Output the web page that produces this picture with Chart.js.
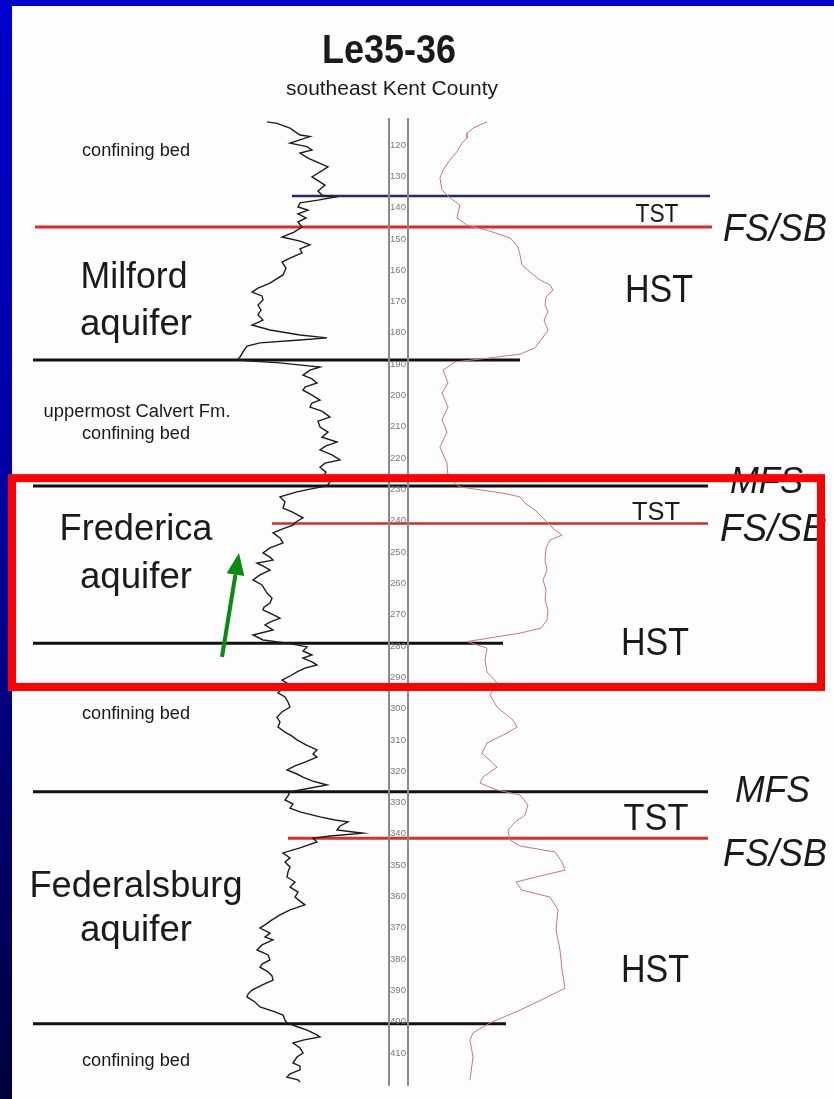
<!DOCTYPE html>
<html>
<head>
<meta charset="utf-8">
<script src="https://cdn.jsdelivr.net/npm/chart.js@4/dist/chart.umd.min.js"></script>
<style>
html,body{margin:0;padding:0;background:#fff;overflow:hidden;}
canvas{display:block;}
</style>
</head>
<body>
<canvas id="c" width="834" height="1099"></canvas>
<script>
// ---------- DATA ----------
const depthTicks = [120,130,140,150,160,170,180,190,200,210,220,230,240,250,260,270,280,290,300,310,320,330,340,350,360,370,380,390,400,410];

// Gamma-ray log (black): depth (ft) and relative reading
const gammaDepth = [112.6,113.1,114.6,116.8,117.3,119.4,120.5,121.6,122.6,124.2,127.0,130.2,132.8,134.7,136.0,136.6,137.6,138.5,139.8,140.8,142.0,143.3,144.6,146.2,147.8,149.4,150.7,151.9,153.2,154.5,156.1,157.4,159.3,161.5,163.1,164.1,165.7,167.0,168.2,169.5,171.1,172.7,174.3,175.9,177.5,179.1,180.7,181.6,182.3,183.2,184.2,186.1,187.7,188.7,189.6,190.9,191.9,193.5,194.7,196.0,197.3,198.3,199.9,201.5,202.4,203.7,205.0,206.9,208.2,210.1,211.7,213.3,214.9,216.1,217.4,219.0,220.6,221.6,222.9,224.5,226.0,227.6,228.9,229.9,230.8,232.4,234.0,236.0,237.2,239.1,240.4,241.4,242.7,243.9,245.5,247.1,248.7,250.3,251.6,252.6,253.5,254.8,255.8,257.3,258.9,260.5,262.1,263.1,264.7,266.3,267.6,268.5,269.8,271.1,272.4,273.3,274.9,276.5,278.1,279.1,280.3,281.6,282.9,283.9,285.1,286.1,287.1,288.3,289.6,290.9,292.5,294.1,295.0,296.3,297.9,299.5,301.1,302.7,304.3,305.9,307.5,308.8,310.0,311.6,313.2,314.5,315.5,317.1,318.3,319.6,320.9,321.9,323.1,324.4,325.7,326.6,327.9,329.2,330.5,331.8,333.0,334.6,335.6,336.2,337.5,338.8,339.8,340.7,341.4,342.6,344.5,346.1,347.7,349.0,350.6,352.2,353.8,355.4,357.0,358.6,360.2,361.5,362.7,364.3,365.9,367.5,369.1,370.1,371.7,373.0,373.9,375.5,377.1,378.7,380.3,381.6,382.6,384.1,385.4,386.7,388.3,389.9,391.2,392.1,393.7,395.3,396.9,397.9,399.5,400.4,401.7,402.7,403.9,404.9,405.9,406.8,408.4,410.0,411.3,413.2,414.2,415.4,416.7,417.7,418.6,419.3];
const gammaValue = [67,77,90,100,110,90,107,112,100,108,128,112,125,118,122,135,118,100,98,108,98,106,98,102,94,82,100,110,100,102,90,82,86,83,75,70,58,52,62,63,58,61,58,63,52,70,100,127,100,60,47,43,40,37,80,120,110,103,112,117,105,103,112,120,112,110,122,130,118,120,128,122,137,126,120,132,140,125,120,126,123,130,127,110,97,80,85,83,92,103,96,93,82,73,80,83,70,63,70,73,57,65,70,60,53,62,65,67,72,70,64,63,72,80,70,65,73,53,63,87,107,103,112,103,112,117,105,97,90,82,90,81,78,85,88,90,82,77,80,78,85,92,97,106,117,113,117,105,95,87,97,103,112,127,105,90,88,85,93,90,100,120,135,148,140,137,163,130,113,117,100,83,90,85,90,88,87,95,90,98,95,100,105,90,80,72,65,60,70,65,73,62,57,68,70,62,60,68,72,73,62,52,48,47,55,60,75,83,85,87,98,107,115,120,103,93,100,103,97,93,100,100,90,87,98,100];

// Resistivity log (red): depth (ft) and relative reading
const resistDepth = [112.6,114.6,116.2,117.8,119.4,122.1,124.8,128.0,130.5,134.4,136.0,137.6,139.2,141.7,143.3,145.6,147.2,149.7,152.6,155.1,158.3,160.6,163.1,164.7,166.3,168.6,171.1,173.3,175.9,179.1,182.3,184.8,186.8,188.0,189.3,191.9,196.0,199.2,203.7,207.8,211.7,216.5,221.6,226.4,229.2,231.2,232.4,234.4,236.6,239.8,243.0,244.6,246.2,248.7,252.6,255.8,258.9,262.1,265.3,268.5,271.7,274.3,275.9,278.6,280.7,284.5,288.3,291.8,295.7,299.5,303.7,305.9,307.8,311.0,314.2,318.7,321.9,323.8,326.0,327.6,330.8,334.0,336.2,338.8,342.0,343.9,345.8,349.0,351.6,353.5,355.4,358.0,360.2,364.3,370.7,377.1,383.5,389.3,392.5,396.3,400.4,403.6,405.9,411.3,418.6];
const resistValue = [67,53,47,47,42,37,30,23,20,22,27,33,40,38,37,47,67,90,98,100,102,110,120,130,133,126,125,128,124,128,121,115,100,70,35,23,28,22,28,22,27,20,27,28,40,83,100,105,115,125,135,142,130,126,125,127,123,126,125,128,127,121,100,47,67,65,67,77,70,77,93,97,87,67,62,77,63,60,77,100,108,105,95,88,90,100,135,142,145,120,96,102,130,138,136,140,142,145,125,100,70,53,50,53,50];

// Stratigraphic surfaces: depth (ft) and kind
const surfaceDepth = [136.3, 146.2, 188.7, 228.9, 240.9, 279.1, 326.6, 341.4, 400.7];
const surfaceKind  = ['top','fssb','bound','mfs','fssb2','bound','mfs','fssb3','bound'];

// Highlight box (depth range) and arrow (depth from/to)
const boxDepth = [226.4, 293.1];
const arrowDepth = [283.5, 250.3];
const trackDepth = [111.4, 420.5];

// ---------- LAYOUT / STYLE ----------
const surfaceExtent = [[292,710],[35,712],[33,520],[33,708],[272,708],[33,503],[33,708],[288,708],[33,506]];
const surfaceStyle = {
  top:   {c:'#262673', w:2.5},
  fssb:  {c:'#e2262a', w:3},
  bound: {c:'#111111', w:3},
  mfs:   {c:'#111111', w:3},
  fssb2: {c:'#c8302c', w:2.5},
  fssb3: {c:'#d8302f', w:3}
};
const FONT = '"Liberation Sans", Arial, Helvetica, sans-serif';

const toPts = (ys, xs) => ys.map((d,i)=>({x:xs[i], y:d}));

const datasets = [];
datasets.push({data: toPts(gammaDepth, gammaValue), xAxisID:'gx', borderColor:'#1c1c1c', borderWidth:1.4});
datasets.push({data: toPts(resistDepth, resistValue), xAxisID:'rx', borderColor:'#d27474', borderWidth:1});
[389, 408].forEach(x => datasets.push({data:[{x:x,y:trackDepth[0]},{x:x,y:trackDepth[1]}], xAxisID:'fx', borderColor:'#8a8a8a', borderWidth:2}));
surfaceDepth.forEach((d,i)=>{
  const st = surfaceStyle[surfaceKind[i]];
  datasets.push({data:[{x:surfaceExtent[i][0],y:d},{x:surfaceExtent[i][1],y:d}], xAxisID:'fx', borderColor:st.c, borderWidth:st.w});
});
datasets.forEach(ds=>{ds.showLine=true; ds.pointRadius=0; ds.tension=0; ds.fill=false; ds.clip=false;});

const labels = [
  {t:'Le35-36', x:389, y:63, f:'bold 41px', w:134, a:'center'},
  {t:'southeast Kent County', x:392, y:95, f:'20px', w:212, a:'center'},
  {t:'confining bed', x:136, y:156, f:'18px', w:108, a:'center'},
  {t:'Milford', x:134, y:288, f:'37px', w:107, a:'center'},
  {t:'aquifer', x:136, y:335, f:'37px', w:112, a:'center'},
  {t:'uppermost Calvert Fm.', x:137, y:417, f:'18px', w:187, a:'center'},
  {t:'confining bed', x:136, y:439, f:'18px', w:108, a:'center'},
  {t:'Frederica', x:136, y:540, f:'37px', w:153, a:'center'},
  {t:'aquifer', x:136, y:588, f:'37px', w:112, a:'center'},
  {t:'confining bed', x:136, y:719, f:'18px', w:108, a:'center'},
  {t:'Federalsburg', x:136, y:897, f:'37px', w:213, a:'center'},
  {t:'aquifer', x:136, y:941, f:'37px', w:112, a:'center'},
  {t:'confining bed', x:136, y:1066, f:'18px', w:108, a:'center'},
  {t:'TST', x:657, y:222, f:'25px', w:43, a:'center'},
  {t:'FS/SB', x:723, y:241, f:'italic 38px', w:104, a:'left'},
  {t:'HST', x:659, y:302, f:'38px', w:68, a:'center'},
  {t:'MFS', x:730, y:493, f:'italic 37px', w:73, a:'left'},
  {t:'TST', x:656, y:520, f:'25px', w:48, a:'center'},
  {t:'FS/SB', x:720, y:541, f:'italic 38px', w:107, a:'left'},
  {t:'HST', x:655, y:655, f:'38px', w:68, a:'center'},
  {t:'MFS', x:735, y:802, f:'italic 37px', w:75, a:'left'},
  {t:'TST', x:656, y:830, f:'37px', w:65, a:'center'},
  {t:'FS/SB', x:723, y:866, f:'italic 38px', w:104, a:'left'},
  {t:'HST', x:655, y:982, f:'38px', w:68, a:'center'}
];

function fitText(ctx, L){
  ctx.save();
  ctx.font = L.f + ' ' + FONT;
  ctx.fillStyle = '#1a1a1a';
  ctx.textBaseline = 'alphabetic';
  const m = ctx.measureText(L.t).width;
  const s = L.w ? L.w / m : 1;
  let x0 = L.a === 'center' ? L.x - (m*s)/2 : L.x;
  ctx.translate(x0, L.y);
  ctx.scale(s, 1);
  ctx.textAlign = 'left';
  ctx.fillText(L.t, 0, 0);
  ctx.restore();
}

const decor = {
  id:'decor',
  beforeDraw(chart){
    const ctx = chart.ctx, W = chart.width, H = chart.height;
    ctx.save();
    const g = ctx.createLinearGradient(0,0,0,H);
    g.addColorStop(0,'#0000cf');
    g.addColorStop(0.5,'#00009a');
    g.addColorStop(1,'#00003c');
    ctx.fillStyle = g;
    ctx.fillRect(0,0,W,H);
    ctx.fillStyle = '#0000cc';
    ctx.fillRect(0,0,W,6);
    ctx.fillStyle = '#fdfdfd';
    ctx.fillRect(12,6,W-12,H-6);
    ctx.restore();
  },
  afterDatasetsDraw(chart){
    const ctx = chart.ctx;
    const ys = chart.scales.y, fx = chart.scales.fx;
    // depth tick labels
    ctx.save();
    ctx.font = '9.5px ' + FONT;
    ctx.fillStyle = '#7a7a7a';
    ctx.textAlign = 'center';
    ctx.textBaseline = 'middle';
    depthTicks.forEach(d => ctx.fillText(String(d), fx.getPixelForValue(398), ys.getPixelForValue(d)));
    ctx.restore();
    // text labels
    labels.forEach(L => fitText(ctx, L));
    // highlight box
    ctx.save();
    ctx.strokeStyle = '#ff0000';
    ctx.lineWidth = 8;
    const bx0 = fx.getPixelForValue(12), bx1 = fx.getPixelForValue(821);
    const by0 = ys.getPixelForValue(boxDepth[0]), by1 = ys.getPixelForValue(boxDepth[1]);
    ctx.strokeRect(bx0, by0, bx1-bx0, by1-by0);
    ctx.restore();
    // green arrow
    ctx.save();
    const ax0 = fx.getPixelForValue(222), ay0 = ys.getPixelForValue(arrowDepth[0]);
    const ax1 = fx.getPixelForValue(239), ay1 = ys.getPixelForValue(arrowDepth[1]);
    const ang = Math.atan2(ay1-ay0, ax1-ax0);
    const hl = 22, hw = 9;
    const bxh = ax1 - hl*Math.cos(ang), byh = ay1 - hl*Math.sin(ang);
    ctx.strokeStyle = '#0b8a12';
    ctx.fillStyle = '#0b8a12';
    ctx.lineWidth = 4;
    ctx.beginPath(); ctx.moveTo(ax0, ay0); ctx.lineTo(bxh, byh); ctx.stroke();
    ctx.beginPath();
    ctx.moveTo(ax1, ay1);
    ctx.lineTo(bxh + hw*Math.sin(ang), byh - hw*Math.cos(ang));
    ctx.lineTo(bxh - hw*Math.sin(ang), byh + hw*Math.cos(ang));
    ctx.closePath(); ctx.fill();
    ctx.restore();
  }
};

new Chart(document.getElementById('c'), {
  type:'scatter',
  data:{datasets},
  options:{
    responsive:false, animation:false, events:[],
    layout:{padding:0},
    plugins:{legend:{display:false}, tooltip:{enabled:false}, title:{display:false}},
    scales:{
      y:{type:'linear', reverse:true, min:73.69, max:424.7, display:false},
      gx:{type:'linear', axis:'x', min:-200, max:634, display:false},
      rx:{type:'linear', axis:'x', min:-420, max:414, display:false},
      fx:{type:'linear', axis:'x', min:0, max:834, display:false}
    }
  },
  plugins:[decor]
});
</script>
</body>
</html>
